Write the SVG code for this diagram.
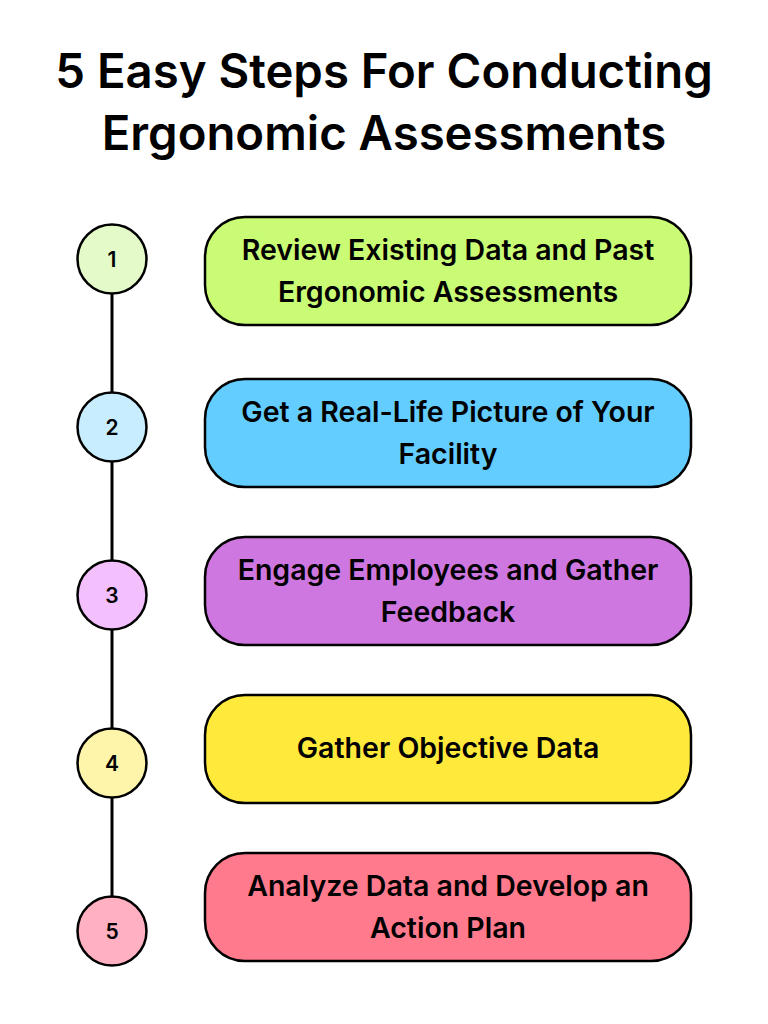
<svg xmlns="http://www.w3.org/2000/svg" width="768" height="1024" viewBox="0 0 768 1024">
<style>
.title{font-family:Inter,"Liberation Sans",sans-serif;font-weight:600;font-size:47.3px;fill:#000;text-anchor:middle}
.box{stroke:#000;stroke-width:2.5}
.circ{stroke:#000;stroke-width:2.5}
.lbl{font-family:Inter,"Liberation Sans",sans-serif;font-weight:600;font-size:28.5px;fill:#000;text-anchor:middle}
.num{font-family:Inter,"Liberation Sans",sans-serif;font-weight:600;font-size:21px;fill:#000;text-anchor:middle}
.conn{stroke:#000;stroke-width:3;fill:none}
</style>
<rect width="768" height="1024" fill="#fff"/>
<text class="title" x="384" y="88">5 Easy Steps For Conducting</text>
<text class="title" x="384" y="150">Ergonomic Assessments</text>
<g id="connectors">
<line class="conn" x1="112" y1="294" x2="112" y2="392"/>
<line class="conn" x1="112" y1="462" x2="112" y2="560"/>
<line class="conn" x1="112" y1="630" x2="112" y2="728"/>
<line class="conn" x1="112" y1="798" x2="112" y2="896"/>
</g>
<g id="step1">
<circle class="circ" cx="112" cy="259" r="34.5" fill="#e4fbc9"/>
<text class="num" x="112" y="266.5">1</text>
<rect class="box" x="205" y="217" width="486" height="108" rx="40" fill="#c9fb74"/>
<text class="lbl" x="448" y="260">Review Existing Data and Past</text>
<text class="lbl" x="448" y="302">Ergonomic Assessments</text>
</g>
<g id="step2">
<circle class="circ" cx="112" cy="427" r="34.5" fill="#c8edfe"/>
<text class="num" x="112" y="434.5">2</text>
<rect class="box" x="205" y="379" width="486" height="108" rx="40" fill="#62cdfe"/>
<text class="lbl" x="448" y="422">Get a Real-Life Picture of Your</text>
<text class="lbl" x="448" y="464">Facility</text>
</g>
<g id="step3">
<circle class="circ" cx="112" cy="595" r="34.5" fill="#f3bffd"/>
<text class="num" x="112" y="602.5">3</text>
<rect class="box" x="205" y="537" width="486" height="108" rx="40" fill="#cf77e0"/>
<text class="lbl" x="448" y="580">Engage Employees and Gather</text>
<text class="lbl" x="448" y="622">Feedback</text>
</g>
<g id="step4">
<circle class="circ" cx="112" cy="763" r="34.5" fill="#fef5aa"/>
<text class="num" x="112" y="770.5">4</text>
<rect class="box" x="205" y="695" width="486" height="108" rx="40" fill="#ffe93b"/>
<text class="lbl" x="448" y="758">Gather Objective Data</text>
</g>
<g id="step5">
<circle class="circ" cx="112" cy="931" r="34.5" fill="#ffb1c1"/>
<text class="num" x="112" y="938.5">5</text>
<rect class="box" x="205" y="853" width="486" height="108" rx="40" fill="#ff7a8d"/>
<text class="lbl" x="448" y="896">Analyze Data and Develop an</text>
<text class="lbl" x="448" y="938">Action Plan</text>
</g>
</svg>
